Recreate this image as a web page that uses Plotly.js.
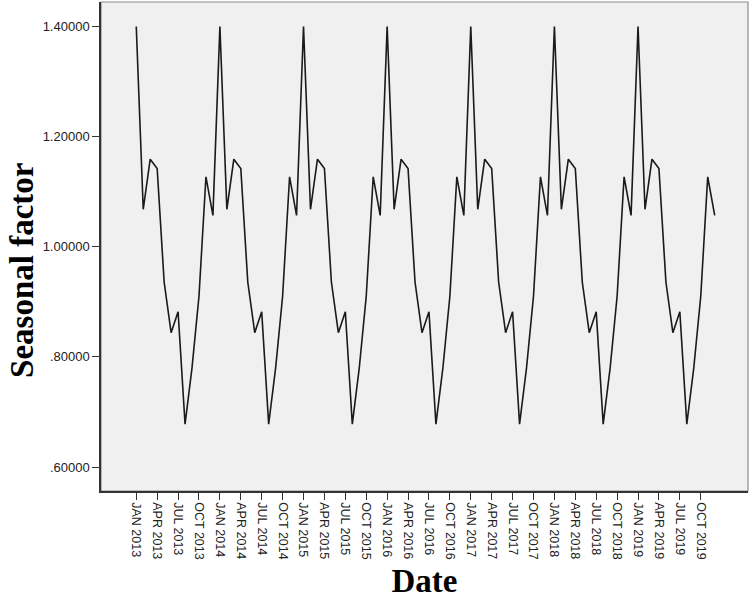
<!DOCTYPE html>
<html>
<head>
<meta charset="utf-8">
<script src="https://cdn.plot.ly/plotly-3.0.1.min.js"></script>
<style>
  body { margin: 0; background: #fff; }
  #plotArea { width: 753px; height: 599px; }
</style>
</head>
<body>
<div id="plotArea"></div>
<script>
var monthNames = ["JAN", "FEB", "MAR", "APR", "MAY", "JUN", "JUL", "AUG", "SEP", "OCT", "NOV", "DEC"];
var years = [2013, 2014, 2015, 2016, 2017, 2018, 2019];

// seasonal factor per month, Jan 2013 .. Dec 2019
var factor = [
  1.400, 1.068, 1.159, 1.142, 0.936, 0.844, 0.882, 0.678, 0.780, 0.910, 1.127, 1.057,
  1.400, 1.068, 1.159, 1.142, 0.936, 0.844, 0.882, 0.678, 0.780, 0.910, 1.127, 1.057,
  1.400, 1.068, 1.159, 1.142, 0.936, 0.844, 0.882, 0.678, 0.780, 0.910, 1.127, 1.057,
  1.400, 1.068, 1.159, 1.142, 0.936, 0.844, 0.882, 0.678, 0.780, 0.910, 1.127, 1.057,
  1.400, 1.068, 1.159, 1.142, 0.936, 0.844, 0.882, 0.678, 0.780, 0.910, 1.127, 1.057,
  1.400, 1.068, 1.159, 1.142, 0.936, 0.844, 0.882, 0.678, 0.780, 0.910, 1.127, 1.057,
  1.400, 1.068, 1.159, 1.142, 0.936, 0.844, 0.882, 0.678, 0.780, 0.910, 1.127, 1.057
];

var yTickVals = [0.6, 0.8, 1.0, 1.2, 1.4];
var yTickText = [".60000", ".80000", "1.00000", "1.20000", "1.40000"];

// category labels, one per month
var dates = [];
years.forEach(function (yr) {
  monthNames.forEach(function (m) { dates.push(m + " " + yr); });
});
// quarterly tick labels
var xTicks = dates.filter(function (d, i) { return i % 3 === 0; });

var titleFont = { family: "Liberation Serif, Times New Roman, serif", size: 33, color: "#000" };

var trace = {
  x: dates,
  y: factor,
  type: "scatter",
  mode: "lines",
  line: { color: "#1a1a1a", width: 1.6 },
  hoverinfo: "x+y"
};

var layout = {
  width: 753,
  height: 599,
  margin: { l: 101, r: 5, t: 2, b: 108 },
  paper_bgcolor: "#ffffff",
  plot_bgcolor: "#f0f0f0",
  showlegend: false,
  font: { family: "Liberation Sans, Arial, sans-serif", color: "#222" },
  xaxis: {
    type: "category",
    range: [-5.06, 87.78],
    tickvals: xTicks,
    tickangle: 90,
    ticks: "outside",
    ticklen: 7,
    tickwidth: 1.2,
    tickcolor: "#333",
    tickfont: { size: 12.5, color: "#222" },
    showgrid: false,
    zeroline: false,
    showline: true,
    linecolor: "#333",
    linewidth: 1.5,
    title: { text: "<b>Date</b>", font: titleFont, standoff: 18 }
  },
  yaxis: {
    range: [0.5565, 1.4444],
    tickvals: yTickVals,
    ticktext: yTickText,
    ticks: "outside",
    ticklen: 7,
    tickwidth: 1.2,
    tickcolor: "#333",
    tickfont: { size: 13, color: "#222" },
    showgrid: false,
    zeroline: false,
    showline: true,
    linecolor: "#333",
    linewidth: 1.5
  },
  annotations: [{
    text: "<b>Seasonal factor</b>",
    font: titleFont,
    textangle: -90,
    xref: "paper", yref: "paper",
    x: 0, y: 0.45,
    xshift: -79,
    xanchor: "center", yanchor: "middle",
    showarrow: false
  }],
  shapes: [{
    type: "rect", xref: "paper", yref: "paper",
    x0: 0, x1: 1, y0: 0, y1: 1,
    line: { color: "#8c8c8c", width: 1.2 },
    layer: "below"
  }]
};

Plotly.newPlot("plotArea", [trace], layout, { displayModeBar: false });
</script>
</body>
</html>
